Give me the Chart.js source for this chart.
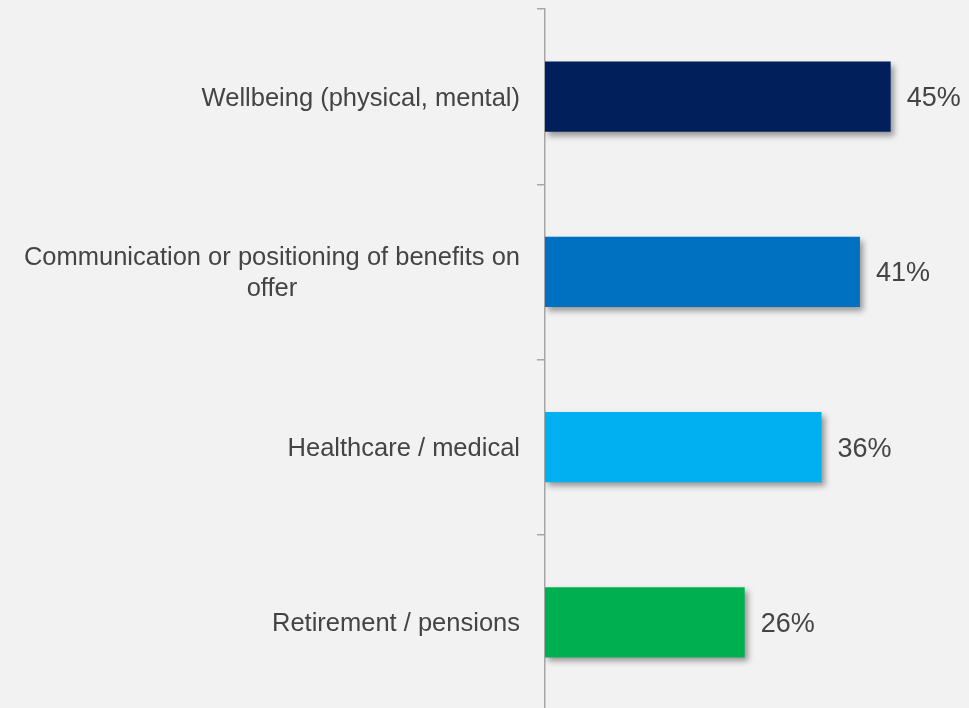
<!DOCTYPE html>
<html>
<head>
<meta charset="utf-8">
<script src="https://cdn.jsdelivr.net/npm/chart.js@4/dist/chart.umd.min.js"></script>
<style>
  html, body { margin: 0; padding: 0; background: #f2f2f2; overflow: hidden; }
  #wrap { position: relative; width: 969px; height: 711px; }
</style>
</head>
<body>
<div id="wrap"><canvas id="myChart"></canvas></div>
<script>
// benefit areas, one line per array item where the label wraps
const categories = [
  ['Wellbeing (physical, mental)'],
  ['Communication or positioning of benefits on', 'offer'],
  ['Healthcare / medical'],
  ['Retirement / pensions']
];
const shares = [45, 41, 36, 26];
const barColours = ['#001f5b', '#0070c0', '#00b0f0', '#00b050'];

const textColour = '#444444';
const fontFamily = '"Liberation Sans", Arial, Helvetica, sans-serif';

// soft drop shadow under the bars
const barShadow = {
  id: 'barShadow',
  beforeDatasetsDraw(chart) {
    const ctx = chart.ctx;
    ctx.save();
    ctx.shadowColor = 'rgba(0, 0, 0, 0.38)';
    ctx.shadowBlur = 6;
    ctx.shadowOffsetX = 3;
    ctx.shadowOffsetY = 4;
  },
  afterDatasetsDraw(chart) {
    chart.ctx.restore();
  }
};

// category names left of the axis, block right-aligned, lines centred
const categoryLabels = {
  id: 'categoryLabels',
  afterDraw(chart) {
    const ctx = chart.ctx;
    const yScale = chart.scales.y;
    const rightEdge = yScale.right - 25;
    const lineHeight = 31;
    ctx.save();
    ctx.font = '25.5px ' + fontFamily;
    ctx.fillStyle = textColour;
    ctx.textAlign = 'center';
    ctx.textBaseline = 'middle';
    categories.forEach((lines, i) => {
      const y = yScale.getPixelForValue(i) + 2;
      const widest = Math.max(...lines.map(l => ctx.measureText(l).width));
      const cx = rightEdge - widest / 2;
      const top = y - (lines.length - 1) * lineHeight / 2;
      lines.forEach((l, j) => ctx.fillText(l, cx, top + j * lineHeight));
    });
    ctx.restore();
  }
};

// percentage at the end of each bar
const valueLabels = {
  id: 'valueLabels',
  afterDraw(chart) {
    const ctx = chart.ctx;
    const meta = chart.getDatasetMeta(0);
    ctx.save();
    ctx.font = '27px ' + fontFamily;
    ctx.fillStyle = textColour;
    ctx.textAlign = 'left';
    ctx.textBaseline = 'middle';
    meta.data.forEach((bar, i) => {
      ctx.fillText(shares[i] + '%', bar.x + 16, bar.y + 2);
    });
    ctx.restore();
  }
};

var ctx = document.getElementById('myChart').getContext('2d');
var chartjs = new Chart(ctx, {
  type: 'bar',
  data: {
    labels: categories.map(c => c.join(' ')),
    datasets: [{
      data: shares,
      backgroundColor: barColours,
      borderWidth: 0,
      categoryPercentage: 1,
      barPercentage: 0.4
    }]
  },
  options: {
    indexAxis: 'y',
    responsive: true,
    maintainAspectRatio: false,
    animation: false,
    layout: { padding: { top: 9, right: 0, bottom: 1, left: 0 } },
    plugins: {
      legend: { display: false },
      tooltip: { enabled: false }
    },
    scales: {
      x: {
        display: false,
        min: 0,
        max: 55.2
      },
      y: {
        offset: true,
        afterFit(scale) { scale.width = 545; },
        ticks: { display: false },
        grid: {
          offset: true,
          drawOnChartArea: false,
          drawTicks: true,
          tickLength: 8,
          color: '#a6a6a6',
          lineWidth: 1.5
        },
        border: { color: '#a6a6a6', width: 1.5 }
      }
    }
  },
  plugins: [barShadow, categoryLabels, valueLabels]
});
</script>
</body>
</html>
